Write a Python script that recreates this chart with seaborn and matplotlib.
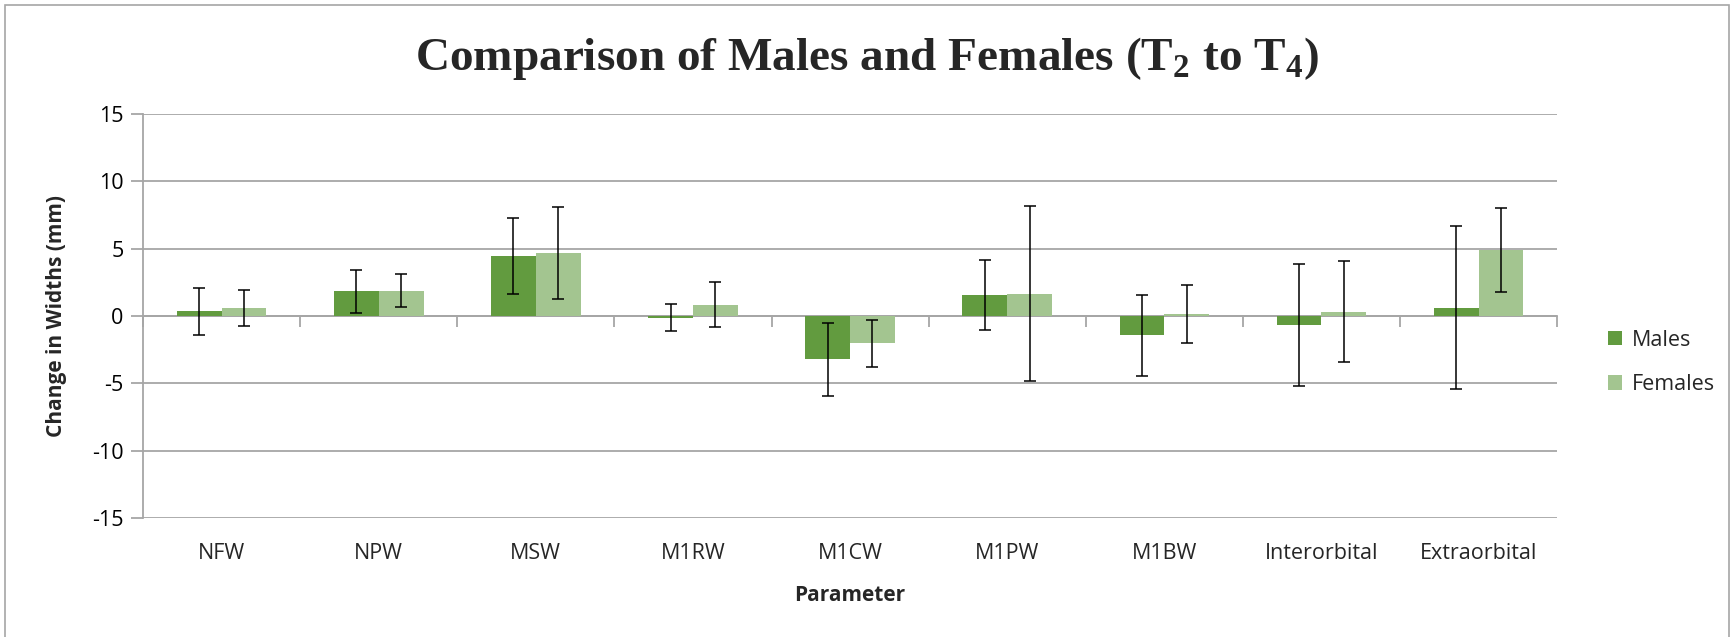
import numpy as np
import pandas as pd
import matplotlib
matplotlib.use("Agg")
import matplotlib.pyplot as plt
from matplotlib.patches import Rectangle
import seaborn as sns

# Mean change in widths (mm) between T2 and T4, with standard deviations
parameters = ["NFW", "NPW", "MSW", "M1RW", "M1CW", "M1PW", "M1BW",
              "Interorbital", "Extraorbital"]
males_mean = [0.35, 1.82, 4.44, -0.12, -3.23, 1.58, -1.45, -0.65, 0.62]
males_sd = [1.73, 1.60, 2.83, 1.02, 2.71, 2.60, 3.00, 4.54, 6.06]
females_mean = [0.60, 1.88, 4.68, 0.83, -2.04, 1.65, 0.15, 0.32, 4.90]
females_sd = [1.31, 1.21, 3.44, 1.67, 1.77, 6.50, 2.18, 3.74, 3.10]
groups = ["Males", "Females"]
colors = ["#629B3F", "#A3C590"]
y_ticks = [-15, -10, -5, 0, 5, 10, 15]

df = pd.DataFrame({
    "Parameter": parameters * 2,
    "Change": males_mean + females_mean,
    "SD": males_sd + females_sd,
    "Group": [groups[0]] * len(parameters) + [groups[1]] * len(parameters),
})

sns.set_theme(style="white")
plt.rcParams["font.family"] = ["Open Sans", "DejaVu Sans"]
plt.rcParams["axes.unicode_minus"] = False
plt.rcParams["mathtext.fontset"] = "custom"
plt.rcParams["mathtext.rm"] = "Liberation Serif:bold"
plt.rcParams["mathtext.bf"] = "Liberation Serif:bold"

fig = plt.figure(figsize=(17.34, 6.37), dpi=100)
ax = fig.add_axes([0.0825, 0.187, 0.8155, 0.634])

sns.barplot(data=df, x="Parameter", y="Change", hue="Group",
            order=parameters, hue_order=groups, palette=colors,
            errorbar=None, width=0.57, saturation=1, gap=0,
            edgecolor="none", ax=ax, zorder=3)

# Error bars (±SD) drawn at the centre of each bar
means = [males_mean, females_mean]
sds = [males_sd, females_sd]
for container, mean, sd in zip(ax.containers, means, sds):
    xs = [p.get_x() + p.get_width() / 2 for p in container.patches]
    ax.errorbar(xs, mean, yerr=sd, fmt="none", ecolor="black",
                elinewidth=1.1, capsize=4, capthick=1.1, zorder=4)

ax.set_ylim(-15, 15)
ax.set_xlim(-0.5, len(parameters) - 0.5)
ax.set_yticks(y_ticks)
ax.yaxis.grid(True, color="#A6A6A6", linewidth=1.3, zorder=0)
ax.xaxis.grid(False)
ax.tick_params(axis="y", which="major", length=9, width=1.3,
               color="#A6A6A6", left=True, labelsize=15.5, pad=5,
               labelcolor="black")

# Horizontal axis runs through zero, with category dividers
for side in ["top", "right"]:
    ax.spines[side].set_visible(False)
ax.spines["left"].set_color("#A6A6A6")
ax.spines["left"].set_linewidth(1.3)
ax.spines["bottom"].set_position(("data", 0))
ax.spines["bottom"].set_color("#A6A6A6")
ax.spines["bottom"].set_linewidth(1.3)
ax.spines["bottom"].set_zorder(2)
ax.set_xticks(np.arange(-0.5, len(parameters), 1.0))
ax.set_xticklabels([])
ax.tick_params(axis="x", which="major", length=8, width=1.3,
               color="#A6A6A6", bottom=True, direction="out")
ax.set_xlabel("")

sec = ax.secondary_xaxis(0.0)
sec.set_xticks(range(len(parameters)))
sec.set_xticklabels(parameters, fontsize=15.5)
sec.tick_params(length=0, pad=18)
sec.spines["bottom"].set_visible(False)
sec.set_xlabel("Parameter", fontsize=15, fontweight="bold", labelpad=15)

ax.set_ylabel("Change in Widths (mm)", fontsize=15, fontweight="bold")
ax.yaxis.set_label_coords(-0.054, 0.5)

fig.suptitle(r"Comparison of Males and Females (T$_\mathbf{2}$ to T$_\mathbf{4}$)",
             x=0.5, y=0.945, fontsize=34, fontweight="bold",
             family="Liberation Serif")

leg = ax.legend(loc="center left", bbox_to_anchor=(1.022, 0.385),
                frameon=False, fontsize=15.5, handlelength=0.65,
                handleheight=0.65, labelspacing=1.1, handletextpad=0.5)

fig.patches.append(Rectangle((0.003, -0.01), 0.994, 1.002,
                             transform=fig.transFigure, fill=False,
                             edgecolor="#A6A6A6", linewidth=1.2))

fig.savefig("out.png", dpi=100)
